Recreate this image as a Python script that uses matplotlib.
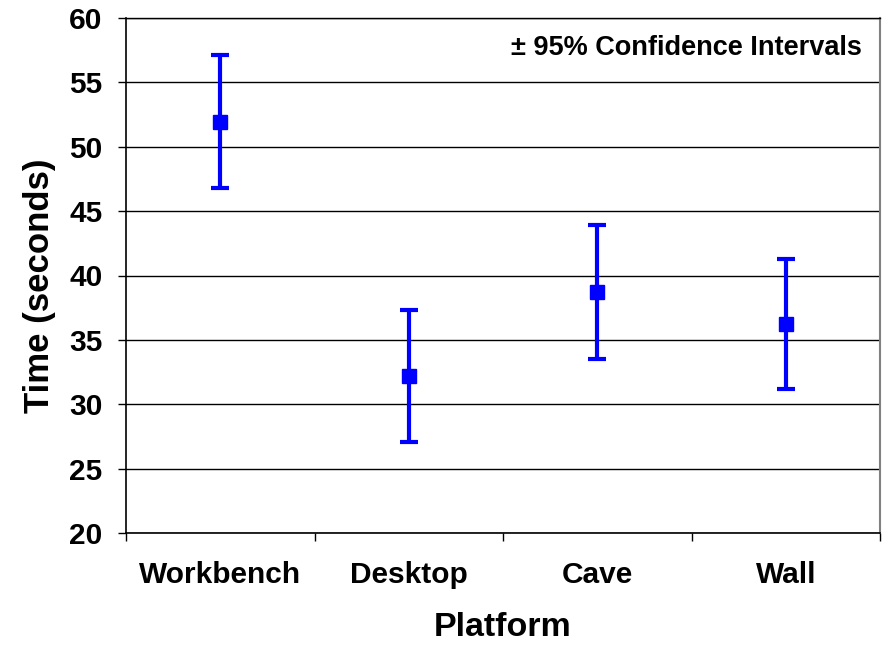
import matplotlib
matplotlib.use("Agg")
import matplotlib.pyplot as plt
import numpy as np

platforms = ["Workbench", "Desktop", "Cave", "Wall"]
mean_time = [51.95, 32.2, 38.7, 36.25]
ci_half = [5.15, 5.13, 5.2, 5.07]
y_ticks = [20, 25, 30, 35, 40, 45, 50, 55, 60]

plt.rcParams['font.family'] = ['Liberation Sans', 'DejaVu Sans']
plt.rcParams['font.weight'] = 'bold'

fig = plt.figure(figsize=(8.85, 6.45), dpi=100)
ax = fig.add_axes([126/885, 1 - 533/645, (880 - 126)/885, (533 - 18)/645])

x = np.arange(len(platforms)) + 0.5
ax.errorbar(x, mean_time, yerr=ci_half, fmt='s', color='#0000FF', ecolor='#0000FF',
            elinewidth=3, capsize=6.5, capthick=3, markersize=10, zorder=3)

ax.set_xlim(0, len(platforms))
ax.set_ylim(20, 60)
ax.set_yticks(y_ticks)
ax.set_yticklabels([str(v) for v in y_ticks], fontsize=21.5, fontweight='bold')
ax.set_xticks(x)
ax.set_xticklabels(platforms, fontsize=21.5, fontweight='bold')
ax.set_xticks(np.arange(len(platforms) + 1), minor=True)
ax.tick_params(axis='x', which='major', length=0, pad=20)
ax.tick_params(axis='x', which='minor', length=6, width=1, direction='out', color='black')
ax.tick_params(axis='y', length=6, width=1, direction='out', pad=11)

ax.grid(axis='y', color='black', linewidth=1)
ax.set_axisbelow(True)
for s in ['left', 'bottom']:
    ax.spines[s].set_color('black')
    ax.spines[s].set_linewidth(1.2)
ax.spines['top'].set_color('black')
ax.spines['top'].set_linewidth(1)
ax.spines['right'].set_color('#808080')
ax.spines['right'].set_linewidth(1.5)

ax.set_xlabel("Platform", fontsize=24.5, fontweight='bold', labelpad=17)
ax.set_ylabel("Time (seconds)", fontsize=25, fontweight='bold')
ax.yaxis.set_label_coords(-0.093, 0.48)

ax.text(0.976, 0.942, "± 95% Confidence Intervals", transform=ax.transAxes,
        ha='right', va='center', fontsize=19.5, fontweight='bold')

fig.savefig("out.png", dpi=100, facecolor='white')
